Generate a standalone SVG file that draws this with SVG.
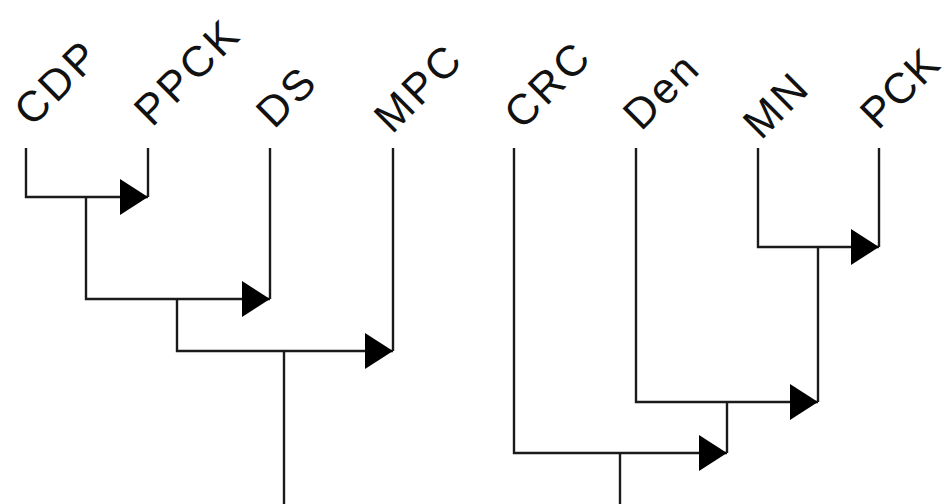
<svg xmlns="http://www.w3.org/2000/svg" width="951" height="504" viewBox="0 0 951 504">
<style>
.lbl{font-family:"Liberation Sans",Arial,sans-serif;font-size:43px;fill:#111;letter-spacing:3px}
.ln{fill:none;stroke:#1a1a1a;stroke-width:2.4}
</style>
<defs>
<marker id="ah" markerUnits="userSpaceOnUse" markerWidth="30" markerHeight="38" refX="28" refY="18" orient="auto" viewBox="0 0 30 38">
<path d="M0,0 L28,18 L0,36 Z" fill="#000"/>
</marker>
</defs>
<rect width="951" height="504" fill="#fff"/>
<g id="connectors">
<path class="ln" d="M26,148 V197 H148" marker-end="url(#ah)"/>
<path class="ln" d="M148,148 V197"/>
<path class="ln" d="M86,197 V299 H270" marker-end="url(#ah)"/>
<path class="ln" d="M270,148 V299"/>
<path class="ln" d="M177,299 V351 H393" marker-end="url(#ah)"/>
<path class="ln" d="M393,148 V351"/>
<path class="ln" d="M284,351 V504"/>
<path class="ln" d="M758,148 V247 H879" marker-end="url(#ah)"/>
<path class="ln" d="M879,148 V247"/>
<path class="ln" d="M636,148 V402 H818" marker-end="url(#ah)"/>
<path class="ln" d="M818,247 V402"/>
<path class="ln" d="M514,148 V453 H727" marker-end="url(#ah)"/>
<path class="ln" d="M727,402 V453"/>
<path class="ln" d="M620,453 V504"/>
</g>
<g id="CDP"><text class="lbl" transform="translate(32,128) rotate(-45)">CDP</text></g>
<g id="PPCK"><text class="lbl" transform="translate(152,128) rotate(-45)">PPCK</text></g>
<g id="DS"><text class="lbl" transform="translate(274,130) rotate(-45)">DS</text></g>
<g id="MPC"><text class="lbl" transform="translate(392,135) rotate(-45)">MPC</text></g>
<g id="CRC"><text class="lbl" transform="translate(522,131) rotate(-45)">CRC</text></g>
<g id="Den"><text class="lbl" transform="translate(641,132) rotate(-45)">Den</text></g>
<g id="MN"><text class="lbl" transform="translate(761,141) rotate(-45)">MN</text></g>
<g id="PCK"><text class="lbl" style="letter-spacing:1px" transform="translate(878,131) rotate(-45)">PCK</text></g>
</svg>
